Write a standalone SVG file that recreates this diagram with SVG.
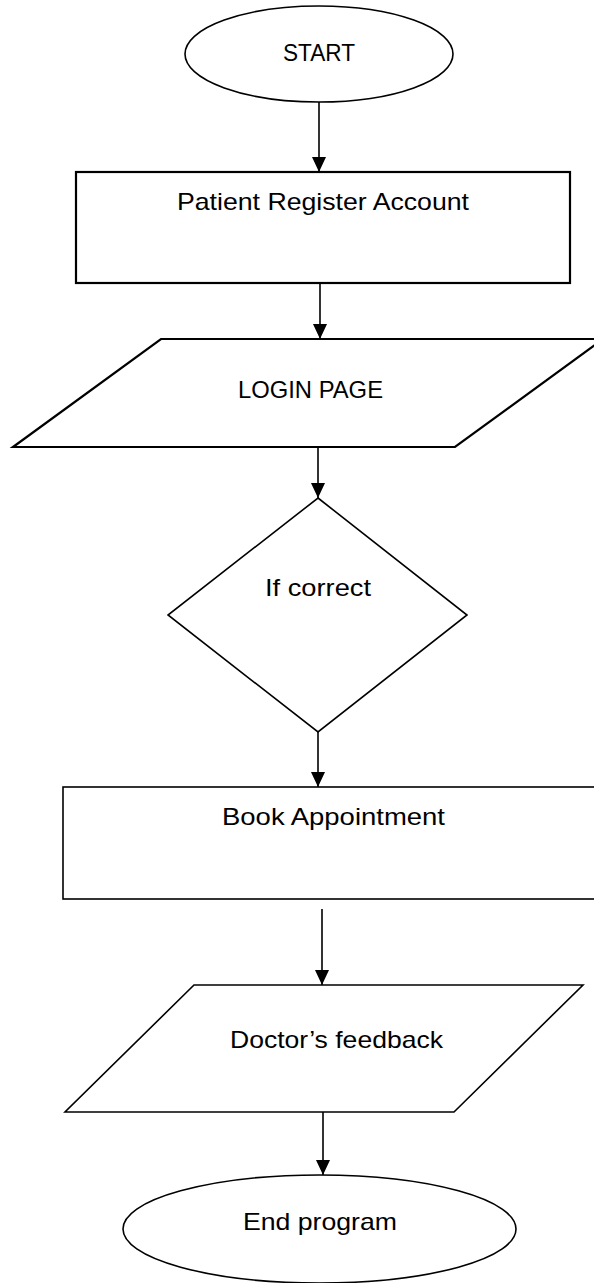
<svg xmlns="http://www.w3.org/2000/svg" width="594" height="1283" viewBox="0 0 594 1283">
  <style>
    .shape { fill: #ffffff; stroke: #000000; stroke-width: 1.6; }
    .thick { stroke-width: 2.2; }
    .label { font-family: "Liberation Sans", Arial, sans-serif; font-size: 24px; fill: #000000; }
    .conn { stroke: #000000; stroke-width: 1.6; fill: none; }
  </style>
  <defs>
    <marker id="ah" viewBox="0 0 15 14" markerWidth="15" markerHeight="14" refX="15" refY="7" orient="auto" markerUnits="userSpaceOnUse">
      <path d="M0,0 L15,7 L0,14 z" fill="#000000"/>
    </marker>
  </defs>
  <rect width="594" height="1283" fill="#ffffff"/>

  <g id="start">
    <ellipse class="shape" cx="319" cy="54" rx="134" ry="48"/>
    <text class="label" x="283" y="61" textLength="72" lengthAdjust="spacingAndGlyphs">START</text>
  </g>

  <g id="register">
    <rect class="shape thick" x="76" y="172" width="494" height="111"/>
    <text class="label" x="177" y="210" textLength="292" lengthAdjust="spacingAndGlyphs">Patient Register Account</text>
  </g>

  <g id="login">
    <polygon class="shape thick" points="161,339 603,339 455,447 13,447"/>
    <text class="label" x="238" y="398" textLength="145" lengthAdjust="spacingAndGlyphs">LOGIN PAGE</text>
  </g>

  <g id="decision">
    <polygon class="shape" points="318,498 467,615 318,732 168,615"/>
    <text class="label" x="265" y="596" textLength="106" lengthAdjust="spacingAndGlyphs">If correct</text>
  </g>

  <g id="book">
    <rect class="shape" x="63" y="787" width="534" height="112"/>
    <text class="label" x="222" y="825" textLength="223" lengthAdjust="spacingAndGlyphs">Book Appointment</text>
  </g>

  <g id="feedback">
    <polygon class="shape" points="194,985 583,985 454,1112 65,1112"/>
    <text class="label" x="230" y="1048" textLength="213" lengthAdjust="spacingAndGlyphs">Doctor’s feedback</text>
  </g>

  <g id="end">
    <ellipse class="shape" cx="319.5" cy="1229" rx="196.5" ry="54"/>
    <text class="label" x="243" y="1230" textLength="154" lengthAdjust="spacingAndGlyphs">End program</text>
  </g>

  <g id="connectors">
    <line class="conn" x1="319" y1="102" x2="319" y2="172" marker-end="url(#ah)"/>
    <line class="conn" x1="320" y1="284" x2="320" y2="339" marker-end="url(#ah)"/>
    <line class="conn" x1="318" y1="447" x2="318" y2="498" marker-end="url(#ah)"/>
    <line class="conn" x1="318" y1="732" x2="318" y2="787" marker-end="url(#ah)"/>
    <line class="conn" x1="322" y1="909" x2="322" y2="985" marker-end="url(#ah)"/>
    <line class="conn" x1="323" y1="1112" x2="323" y2="1175" marker-end="url(#ah)"/>
  </g>
</svg>
